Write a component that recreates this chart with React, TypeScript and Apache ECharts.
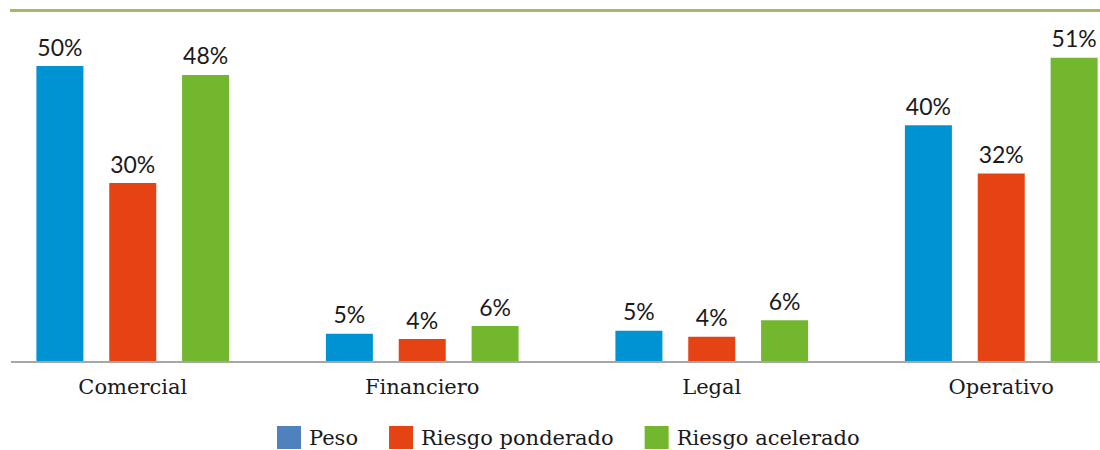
import React, { useEffect, useRef } from "react";
import * as echarts from "echarts";

const categories = ["Comercial", "Financiero", "Legal", "Operativo"];
const seriesNames = ["Peso", "Riesgo ponderado", "Riesgo acelerado"];
const pesoValues = [50, 4.7, 5.2, 40];
const ponderadoValues = [30.2, 3.8, 4.2, 31.8];
const aceleradoValues = [48.5, 6.0, 7.0, 51.4];
const pesoLabels = ["50%", "5%", "5%", "40%"];
const ponderadoLabels = ["30%", "4%", "4%", "32%"];
const aceleradoLabels = ["48%", "6%", "6%", "51%"];

const barColors = ["#0093D4", "#E64315", "#73B72F"];
const legendColors = ["#4F81BD", "#E64315", "#73B72F"];

export default function App() {
  const ref = useRef<HTMLDivElement>(null);
  useEffect(() => {
    if (!ref.current) return;
    const chart = echarts.init(ref.current, undefined, { renderer: "svg" });
    const values = [pesoValues, ponderadoValues, aceleradoValues];
    const labels = [pesoLabels, ponderadoLabels, aceleradoLabels];
    chart.setOption({
      animation: false,
      backgroundColor: "#ffffff",
      grid: {
        left: -12,
        width: 1158,
        top: 7,
        bottom: 88.5,
        containLabel: false,
        outerBoundsMode: "none",
      },
      xAxis: {
        type: "category",
        data: categories,
        axisLine: { show: false },
        axisTick: { show: false },
        axisLabel: {
          margin: 15,
          fontFamily: "DejaVu Serif",
          fontSize: 21,
          color: "#1a1a1a",
        },
      },
      yAxis: {
        type: "value",
        min: 0,
        max: 60,
        show: false,
        splitLine: { show: false },
      },
      legend: {
        left: 272,
        top: 421,
        itemWidth: 24,
        itemHeight: 23,
        itemGap: 31,
        icon: "rect",
        textStyle: {
          fontFamily: "DejaVu Serif",
          fontSize: 21,
          color: "#1a1a1a",
          padding: [0, 0, 0, 3],
        },
        data: seriesNames.map((n, i) => ({ name: n, itemStyle: { color: legendColors[i] } })),
      },
      graphic: [
        {
          type: "line",
          shape: { x1: 10, y1: 10.5, x2: 1100, y2: 10.5 },
          style: { stroke: "#A7B766", lineWidth: 3 },
        },
        {
          type: "line",
          shape: { x1: 11, y1: 362, x2: 1100, y2: 362 },
          style: { stroke: "#A6A6A6", lineWidth: 2 },
          z: 10,
        },
      ],
      series: seriesNames.map((name, si) => ({
        name,
        type: "bar",
        barWidth: 47,
        barGap: "55%",
        itemStyle: { color: barColors[si] },
        data: values[si],
        label: {
          show: true,
          position: "top",
          distance: 8,
          fontFamily: "Lato",
          fontSize: 23,
          color: "#1a1a1a",
          formatter: (p: any) => labels[si][p.dataIndex],
        },
      })),
    });
    return () => chart.dispose();
  }, []);
  return (
    <div
      ref={ref}
      style={{ position: "absolute", left: 0, top: 0, width: 1100, height: 450 }}
    />
  );
}
